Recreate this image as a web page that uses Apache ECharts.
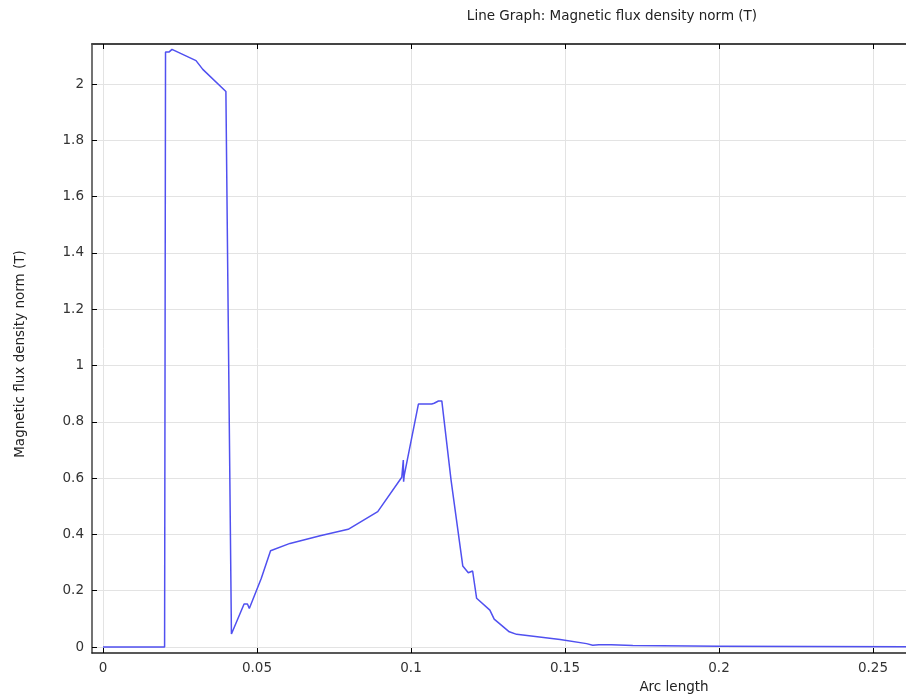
<!DOCTYPE html>
<html>
<head>
<meta charset="utf-8">
<script src="https://cdn.jsdelivr.net/npm/echarts@6/dist/echarts.min.js"></script>
<style>html,body{margin:0;padding:0;background:#fff;}#c{width:906px;height:699px;}</style>
</head>
<body>
<div id="c"></div>
<script>
const titleText = 'Line Graph: Magnetic flux density norm (T)';
const xName = 'Arc length';
const yName = 'Magnetic flux density norm (T)';

const xTicks = [0, 0.05, 0.1, 0.15, 0.2, 0.25];
const yTicks = [0, 0.2, 0.4, 0.6, 0.8, 1, 1.2, 1.4, 1.6, 1.8, 2];

const arcLength = [0, 0.0200, 0.0203, 0.0215, 0.0224, 0.0302, 0.0324, 0.0399, 0.0417, 0.0458, 0.0469, 0.0475, 0.0514, 0.0544, 0.0607, 0.0705, 0.0796, 0.0892, 0.0970, 0.0975, 0.0976, 0.0978, 0.1024, 0.1067, 0.1075, 0.1089, 0.1100, 0.1130, 0.1168, 0.1186, 0.1200, 0.1213, 0.1256, 0.1270, 0.1319, 0.1343, 0.1484, 0.1570, 0.1590, 0.1610, 0.1650, 0.1720, 0.2000, 0.2300, 0.2610];
const fluxNorm  = [0, 0, 2.114, 2.114, 2.123, 2.083, 2.052, 1.973, 0.046, 0.153, 0.153, 0.137, 0.244, 0.342, 0.368, 0.395, 0.418, 0.481, 0.603, 0.664, 0.587, 0.610, 0.863, 0.863, 0.866, 0.874, 0.874, 0.593, 0.288, 0.264, 0.270, 0.173, 0.131, 0.099, 0.054, 0.045, 0.027, 0.012, 0.006, 0.008, 0.008, 0.005, 0.003, 0.002, 0.001];

const xView = [-0.00357, 0.2607];
const yView = [-0.0213, 2.142];

const font = 'DejaVu Sans';
const fs = 13.5;
const lineData = arcLength.map((x, i) => [x, fluxNorm[i]]);

const chart = echarts.init(document.getElementById('c'), null, {renderer: 'canvas'});
chart.setOption({
  animation: false,
  backgroundColor: '#fff',
  textStyle: {fontFamily: font},
  grid: [
    {left: 103, right: 33, top: 44, bottom: 46},
    {left: 92, right: 0, top: 84, bottom: 52},
    {left: 92, right: 0, top: 44, bottom: 46}
  ],
  xAxis: [
    {gridIndex: 0, type: 'value', min: xTicks[0], max: xTicks[xTicks.length - 1], interval: 0.05, position: 'bottom',
     axisLine: {show: false, onZero: false}, axisTick: {show: true, inside: true, length: 5, lineStyle: {color: '#000', width: 1}},
     axisLabel: {show: true, margin: 8, color: '#333', fontSize: fs, fontFamily: font},
     splitLine: {show: true, lineStyle: {color: '#e3e3e3', width: 1}}},
    {gridIndex: 0, type: 'value', min: xTicks[0], max: xTicks[xTicks.length - 1], interval: 0.05, position: 'top',
     axisLine: {show: false, onZero: false}, axisTick: {show: true, inside: true, length: 5, lineStyle: {color: '#000', width: 1}},
     axisLabel: {show: false}, splitLine: {show: false}},
    {gridIndex: 2, type: 'value', min: xView[0], max: xView[1], position: 'bottom',
     axisLine: {show: true, onZero: false, lineStyle: {color: '#222', width: 1.5}}, axisTick: {show: false},
     axisLabel: {show: false}, splitLine: {show: false}},
    {gridIndex: 2, type: 'value', min: xView[0], max: xView[1], position: 'top',
     axisLine: {show: true, onZero: false, lineStyle: {color: '#444', width: 2}}, axisTick: {show: false},
     axisLabel: {show: false}, splitLine: {show: false}},
    {gridIndex: 1, type: 'value', min: 0, max: 1, show: false}
  ],
  yAxis: [
    {gridIndex: 0, type: 'value', min: 0, max: 1, show: false},
    {gridIndex: 1, type: 'value', min: yTicks[0], max: yTicks[yTicks.length - 1], interval: 0.2, position: 'left',
     axisLine: {show: false, onZero: false}, axisTick: {show: true, inside: true, length: 5, lineStyle: {color: '#000', width: 1}},
     axisLabel: {show: true, margin: 8, color: '#333', fontSize: fs, fontFamily: font},
     splitLine: {show: true, lineStyle: {color: '#e3e3e3', width: 1}}},
    {gridIndex: 2, type: 'value', min: yView[0], max: yView[1], position: 'left',
     axisLine: {show: true, onZero: false, lineStyle: {color: '#444', width: 1.5}}, axisTick: {show: false},
     axisLabel: {show: false}, splitLine: {show: false}}
  ],
  series: [{
    type: 'line', xAxisIndex: 2, yAxisIndex: 2, data: lineData,
    showSymbol: false, symbol: 'none', smooth: false,
    lineStyle: {color: '#5050f0', width: 1.5}, z: 5
  }],
  graphic: [
    {type: 'text', x: 612, y: 16, style: {text: titleText, fill: '#222', font: fs + 'px "DejaVu Sans"', align: 'center', verticalAlign: 'middle'}},
    {type: 'text', x: 674, y: 687, style: {text: xName, fill: '#222', font: fs + 'px "DejaVu Sans"', align: 'center', verticalAlign: 'middle'}},
    {type: 'text', x: 20, y: 354, rotation: Math.PI / 2, style: {text: yName, fill: '#222', font: fs + 'px "DejaVu Sans"', align: 'center', verticalAlign: 'middle'}}
  ]
});
</script>
</body>
</html>
